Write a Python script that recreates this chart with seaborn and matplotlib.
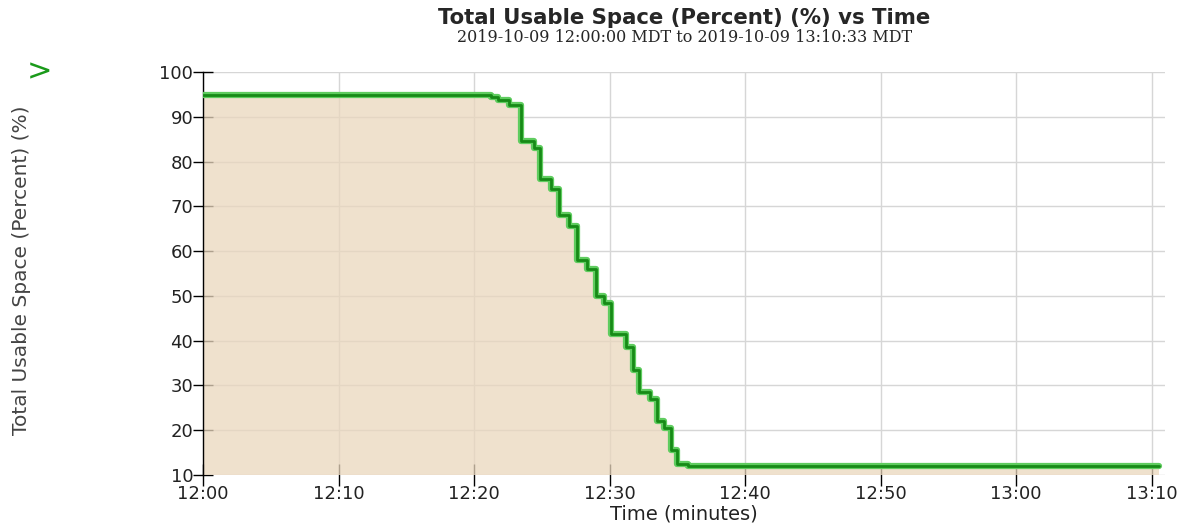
import numpy as np
import pandas as pd

import matplotlib
matplotlib.use("Agg")
import matplotlib.pyplot as plt
import matplotlib.dates as mdate
import seaborn as sns

# Step points: minutes after 12:00 and usable space (%)
minutes = [0.0, 21.25, 21.8, 22.6, 23.45, 24.4, 24.9, 25.7, 26.25, 27.0, 27.6,
           28.3, 29.0, 29.6, 30.1, 31.2, 31.7, 32.2, 33.0, 33.5, 34.0, 34.5,
           35.0, 35.8, 70.55]
usable = [94.8, 94.5, 93.8, 92.6, 84.5, 83.0, 76.0, 73.8, 68.0, 65.5, 58.0,
          56.0, 50.0, 48.5, 41.5, 38.5, 33.5, 28.5, 27.0, 22.0, 20.5, 15.5,
          12.5, 12.0, 12.0]

start = pd.Timestamp("2019-10-09 12:00:00")
df = pd.DataFrame({"Time": start + pd.to_timedelta(minutes, unit="min"),
                   "Usable": usable})

sns.set_style("white")
fig = plt.figure(figsize=(11.94, 5.29), dpi=100)
ax = fig.add_axes([0.170, 0.102, 0.806, 0.762])

# grid stays visible through the translucent fill
ax.grid(True, color="#d6d6d6", lw=1, zorder=2)
ax.fill_between(df["Time"], 10, df["Usable"], step="post", color="#ead7bd",
                alpha=0.75, lw=0, zorder=1)
sns.lineplot(data=df, x="Time", y="Usable", ax=ax, drawstyle="steps-post",
             color="#5fcc5f", lw=4.5, zorder=3)
sns.lineplot(data=df, x="Time", y="Usable", ax=ax, drawstyle="steps-post",
             color="#178a17", lw=2, zorder=4)

ax.set_ylim(10, 100)
ax.set_xlim(start, start + pd.Timedelta(minutes=71))
ax.set_yticks(range(10, 101, 10))
ax.xaxis.set_major_locator(mdate.MinuteLocator(byminute=range(0, 60, 10)))
ax.xaxis.set_major_formatter(mdate.DateFormatter("%H:%M"))

for s in ["top", "right", "bottom"]:
    ax.spines[s].set_visible(False)
ax.spines["left"].set_color("black")
ax.spines["left"].set_linewidth(1)
ax.tick_params(axis="y", direction="inout", length=14, width=1, color="black",
               labelsize=13, labelcolor="#222222", pad=0, left=True)
ax.tick_params(axis="x", direction="inout", length=16, width=1, color="black",
               labelsize=13, labelcolor="#222222", pad=-1, bottom=True)

ax.set_xlabel("Time (minutes)", fontsize=14, labelpad=1, color="#222222")
ax.set_ylabel("")
fig.text(0.018, 0.49, "Total Usable Space (Percent) (%)", rotation=90,
         ha="center", va="center", fontsize=14.5, color="#444444")
fig.text(0.033, 0.865, ">", color="#1a9a1a", fontsize=22, ha="center", va="center")

fig.text(0.573, 0.966, "Total Usable Space (Percent) (%) vs Time", ha="center",
         va="center", fontsize=15.3, fontweight="bold")
fig.text(0.573, 0.930, "2019-10-09 12:00:00 MDT to 2019-10-09 13:10:33 MDT",
         ha="center", va="center", fontsize=11.5, family="DejaVu Serif")

fig.savefig("out.png", dpi=100)
